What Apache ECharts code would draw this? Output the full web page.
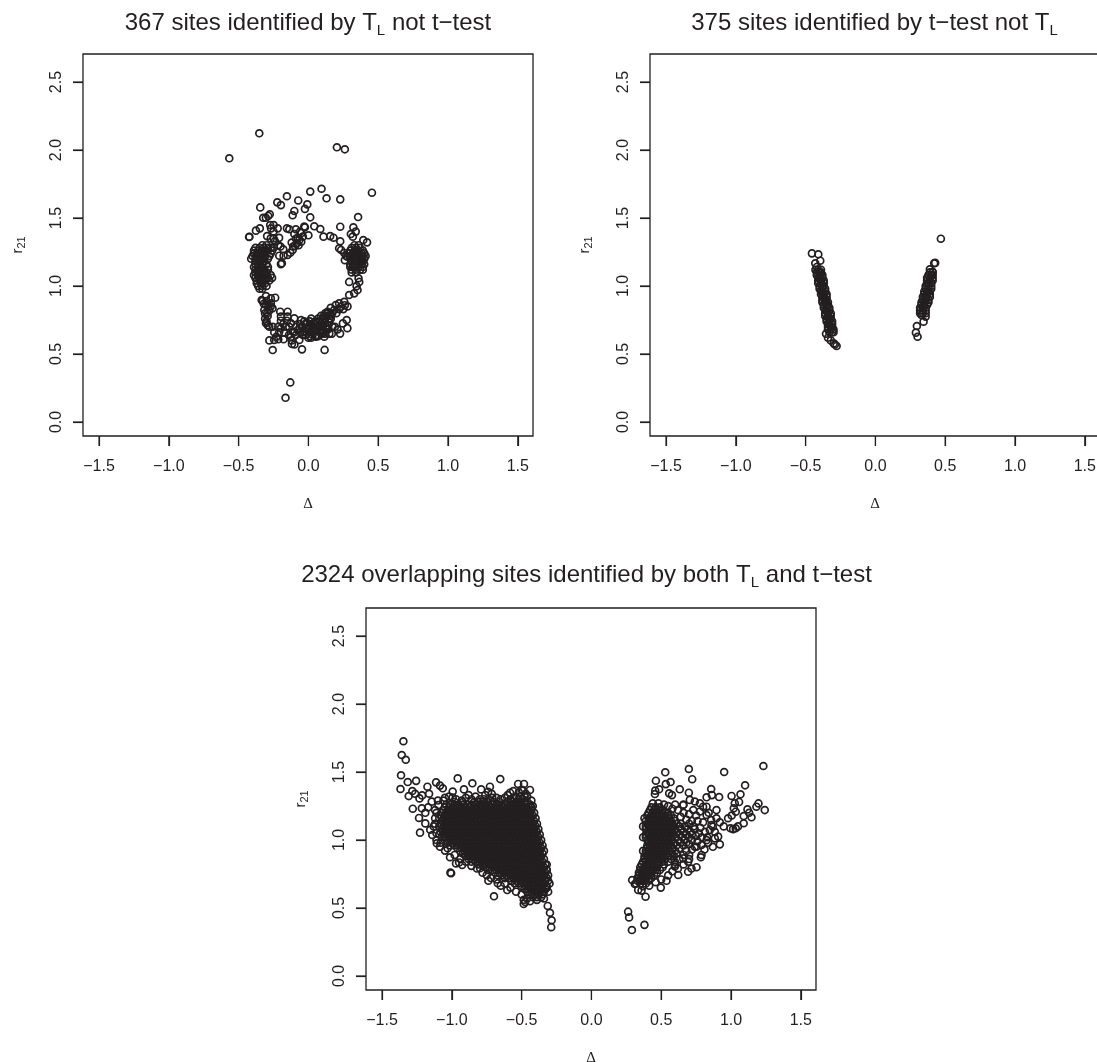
<!DOCTYPE html>
<html><head><meta charset="utf-8">
<script src="https://cdn.jsdelivr.net/npm/echarts@6/dist/echarts.min.js"></script>
<style>html,body{margin:0;padding:0;background:#fff}#c{width:1097px;height:1062px}</style>
</head><body><div id="c"></div>
<script>
const tickValuesX = [-1.5,-1,-0.5,0,0.5,1,1.5];
const tickValuesY = [0,0.5,1,1.5,2,2.5];
const titleParts = [
  [['367 sites identified by T',0],['L',1],[' not t\u2212test',0]],
  [['375 sites identified by t\u2212test not T',0],['L',1]],
  [['2324 overlapping sites identified by both T',0],['L',1],[' and t\u2212test',0]]
];

// Panel 1: T_L only
const tlScattered = [[-.567,1.939],[-.352,2.123],[.204,2.02],[.261,2.005],[.455,1.686],[.094,1.715],[.013,1.694],[.13,1.645],[.228,1.637],[-.154,1.66],[-.223,1.615],[-.197,1.595],[-.073,1.629],[-.008,1.6],[-.025,1.567],[-.345,1.578],[-.101,1.552],[-.113,1.52],[.013,1.505],[.356,1.507],[-.277,1.527],[-.288,1.515],[-.305,1.502],[-.324,1.502],[-.348,1.424],[-.376,1.407],[-.423,1.362],[-.425,1.36],[-.296,1.367],[-.268,1.424],[-.249,1.448],[-.22,1.424],[-.274,1.448],[-.154,1.424],[-.137,1.417],[-.09,1.417],[-.03,1.437],[-.025,1.432],[.042,1.439],[.085,1.419],[.228,1.436],[.322,1.432],[.339,1.4],[.304,1.382],[.318,1.363],[.393,1.338],[.42,1.321],[.108,1.363],[.156,1.367],[.18,1.355],[.228,1.329],[0,1.373],[-.249,1.349],[-.21,1.354],[-.101,1.382],[-.077,1.354],[-.065,1.338],[-.082,1.314],[-.096,1.295],[-.113,1.265],[-.13,1.245],[-.149,1.228],[-.178,1.223],[-.209,1.223],[-.197,1.161],[-.19,1.167],[-.04,1.363],[-.051,1.326],[-.09,1.348],[-.216,1.3],[-.247,1.284],
[-.328,.89],[-.304,.926],[-.269,.909],[-.238,.914],[-.335,.897],[-.288,.848],[-.304,.86],[-.269,.873],[-.311,.799],[-.292,.779],[-.304,.726],[-.28,.7],[-.257,.836],[-.316,.823],[-.32,.87],[-.3,.89],[-.28,.82],[-.31,.76],[-.295,.8],[-.27,.85],[-.3,.74],[-.29,.71],
[-.28,.6],[-.245,.603],[-.216,.608],[-.178,.608],[-.256,.529],[-.202,.811],[-.149,.811],[-.197,.775],[-.149,.775],[-.197,.745],[-.154,.745],[-.216,.7],[-.173,.657],[-.137,.7],[-.113,.663],[-.125,.627],[-.118,.574],[-.065,.603],[-.077,.677],[-.053,.75],[-.245,.66],[-.256,.7],[-.197,.69],[-.23,.627],[-.16,.7],[-.125,.725],[-.101,.762],[-.046,.534],[.116,.53],[-.13,.291],[-.164,.178],[-.1,.66],[-.09,.7],[-.12,.6],[-.1,.57],[-.09,.64],[-.14,.64],[-.21,.66],[-.18,.72],
[.161,.79],[.168,.65],[.227,.65],[.279,.69],[.274,.75],[.247,.725],[.209,.68],[.173,.7],[.114,.627],[.054,.627],[.16,.84],[.196,.86],[.22,.872],[.257,.884],[.28,.85],[.292,.934],[.328,.946],[.352,.97],[.345,.999],[.364,1.03],[.359,1.057],[.292,1.03],[.137,.81],[.184,.823],[.232,.848],[.261,.859],[.234,1.265],[.257,1.243],[.261,1.19],[.22,1.277],[.28,1.215],[.316,1.142],[.2,.8],[.22,.83],[.25,.83],[.15,.65],[.19,.7],
[-.25,1.4],[-.24,1.33],[-.2,1.29],[-.18,1.27],[-.27,1.35],[-.06,1.4],[-.05,1.39],[-.12,1.32],[-.11,1.29],[-.07,1.3]];
const tlLeftCluster = [[1.3,[-.33,-.3]],[1.28,[-.38,-.35,-.32,-.29,-.27]],[1.26,[-.39,-.36,-.33,-.3,-.26]],[1.24,[-.39,-.36,-.33,-.31,-.27]],[1.22,[-.4,-.37,-.34,-.31,-.28]],[1.2,[-.41,-.38,-.35,-.32,-.29]],[1.18,[-.38,-.35,-.32]],[1.16,[-.38,-.36,-.33,-.3]],[1.14,[-.39,-.36,-.33,-.29]],[1.12,[-.38,-.35,-.32,-.29]],[1.1,[-.38,-.36,-.33,-.3]],[1.08,[-.39,-.36,-.33,-.3,-.27]],[1.06,[-.38,-.35,-.32,-.29,-.26]],[1.04,[-.37,-.34,-.31,-.28]],[1.02,[-.37,-.34,-.31]],[1,[-.36,-.33,-.3]],[.98,[-.35,-.33]]];
const tlRightCluster = [[1.3,[.33,.36]],[1.28,[.31,.34,.37]],[1.26,[.3,.33,.36,.39]],[1.24,[.29,.32,.35,.38,.4]],[1.22,[.27,.3,.33,.36,.39,.41]],[1.2,[.3,.33,.36,.38,.4]],[1.18,[.31,.34,.37,.39]],[1.16,[.3,.33,.36,.38,.4]],[1.14,[.3,.33,.36,.39]],[1.12,[.31,.34,.37,.39]],[1.1,[.31,.34]]];
const tlBottomBand = [[.66,[-.06,-.04,.01]],[.69,[-.06,0,.04]],[.72,[-.06,-.02,.02]],[.64,[-.04,-.02,.03,.06]],[.74,[-.03,.01,.05,.08]],[.62,[0,.02]],[.67,[-.03,.02,.05,.08,.11]],[.7,[-.04,.01,.03,.07,.1,.13]],[.73,[-.01,.04,.06,.09,.12,.15]],[.76,[.02,.07,.1,.12,.15,.16]],[.63,[.01,.05,.07]],[.65,[.09,.1,.12]],[.68,[-.01,.04,.1,.13,.14]],[.71,[.03,.1,.14]],[.78,[.09,.11,.13,.16]],[.8,[.12,.14,.17]]];

// Panel 2: t-test only
const ttOutliers = [[-.455,1.24],[-.409,1.233],[-.431,1.167],[-.395,1.186],[-.42,1.14],[-.354,.649],[-.34,.62],[-.32,.6],[-.299,.578],[-.278,.559],[-.29,.57],[.421,1.167],[.428,1.17],[.469,1.348],[.39,1.123],[.41,1.105],[.297,.706],[.29,.657],[.302,.627],[.345,.738],[.36,.775],[.33,.787]];
const ttNegRows = [[1.12,[-.43,-.41,-.39]],[1.1,[-.42,-.4,-.39]],[1.08,[-.42,-.4,-.38]],[1.06,[-.41,-.4,-.38]],[1.04,[-.41,-.39,-.37]],[1.02,[-.41,-.39,-.37]],[1,[-.4,-.38,-.37]],[.98,[-.4,-.38,-.36]],[.96,[-.39,-.38,-.36]],[.94,[-.39,-.37,-.35]],[.92,[-.38,-.37,-.35]],[.9,[-.38,-.36,-.35]],[.88,[-.38,-.36,-.34]],[.86,[-.37,-.35,-.34]],[.84,[-.37,-.35,-.33]],[.82,[-.36,-.35,-.33]],[.8,[-.36,-.34,-.32]],[.78,[-.36,-.34,-.32]],[.76,[-.35,-.33,-.32]],[.74,[-.35,-.33,-.31]],[.72,[-.34,-.33,-.31]],[.7,[-.34,-.32,-.31]],[.68,[-.34,-.32,-.3]],[.66,[-.33,-.31,-.3]]];
const ttPosRows = [[1.1,[.39,.41]],[1.08,[.38,.4,.41]],[1.06,[.37,.39,.41]],[1.04,[.37,.39,.41]],[1.02,[.37,.38,.4]],[1,[.36,.38,.4]],[.98,[.36,.38,.4]],[.96,[.35,.37,.39]],[.94,[.35,.37,.39]],[.92,[.34,.36,.39]],[.9,[.34,.36,.38]],[.88,[.33,.35,.38]],[.86,[.33,.35,.37]],[.84,[.32,.34,.36]],[.82,[.32,.34,.36]],[.8,[.32,.34,.36]]];

// Panel 3: overlap
const bothScattered = [[-1.347,1.726],[-1.359,1.625],[-1.33,1.59],[-1.364,1.476],[-1.368,1.375],[-1.316,1.426],[-1.256,1.435],[-1.309,1.323],[-1.283,1.36],[-1.263,1.34],[-1.232,1.306],[-1.213,1.328],[-1.163,1.34],[-1.175,1.392],[-1.113,1.424],[-1.085,1.4],[-1.065,1.38],[-.958,1.453],[-.994,1.356],[-.994,1.313],[-.913,1.372],[-.853,1.417],[-.79,1.372],[-.727,1.392],[-.74,1.355],[-.714,1.34],[-.653,1.448],[-.525,1.412],[-.483,1.412],[-.44,1.368],[-.49,1.363],[-.583,1.348],[-1.28,1.23],[-1.235,1.162],[-1.19,1.122],[-1.228,1.054],[-1.215,1.233],[-1.19,1.2],[-1.144,1.282],[-1.096,1.257],[-1.12,1.22],[-1.155,1.075],[-1.14,1.037],[-1.108,.976],[-1.085,.951],[-1.049,.922],[-1.013,.873],[-1.01,.76],[-1.005,.755],[-.97,.828],[-.948,.835],[-.926,.816],[-.798,.792],[-.75,.742],[-.738,.701],[-.671,.682],[-.65,.664],[-.603,.632],[-.698,.586],[-.485,.56],[-.485,.53],[-.475,.545],[-.313,.515],[-.297,.465],[-.285,.41],[-.288,.359],[-.31,.62],[-.3,.68],[-.31,.74],[-.32,.82],[-1.12,1.16],[-1.13,1.1],[-1.11,1.05],[-1.17,1.24],[-1.1,1.29],[-1.05,1.31],[-.9,1.31],[-.93,1.29],[-.68,1.31],
[-1.06,1.29],[-1.02,1.32],[-.97,1.3],[-.88,1.33],[-.86,1.3],[-.83,1.32],[-.76,1.33],[-.71,1.31],[-.65,1.3],[-.62,1.31],[-.6,1.33],[-.56,1.36],[-.52,1.35],[-.5,1.37],[-.47,1.34],[-.46,1.32],[-.43,1.29],[-.42,1.25],[-1.11,1.2],[-1.12,1.12],[-1.11,1.0],[-1.08,.98],[-1.03,.94],[-.98,.89],[-.94,.86],[-.9,.84],[-.86,.81],[-.82,.79],[-.78,.76],[-.72,.72],[-.68,.71],[-.62,.68],[-.58,.65],[-.54,.62],[-.5,.6],[-.46,.57],[-.44,.55],[-.39,.56],[-.34,.57],[-.32,.65],[-.31,.7],[-.32,.78],
[1.232,1.544],[.951,1.5],[.698,1.522],[.722,1.447],[.529,1.498],[.462,1.436],[.567,1.426],[.533,1.411],[.485,1.373],[.457,1.363],[.455,1.338],[.557,1.343],[.577,1.33],[.633,1.373],[.698,1.348],[1.101,1.402],[1.068,1.336],[1.004,1.324],[.858,1.375],[.863,1.33],[.915,1.316],[.825,1.314],[1.058,1.28],[1.027,1.27],[1.02,1.233],[1.034,1.208],[1.005,1.18],[1.197,1.269],[1.182,1.245],[1.242,1.22],[1.118,1.225],[1.13,1.2],[1.091,1.176],[1.147,1.167],[1.091,1.123],[1.015,1.08],[1.034,1.086],[.996,1.086],[.948,1.1],[.92,1.13],[.979,1.16],[1.05,1.1],[.92,.968],[.87,.95],[.836,.98],[.908,1.025],[.884,1.012],[.87,1.098],[.858,1.147],[.825,1.184],[.8,1.245],[.777,1.27],[.741,1.283],[.705,1.295],[.657,1.257],[.73,1.22],[.777,1.21],[.825,1.245],[.896,1.22],[.896,1.16],[.848,1.074],[.813,1.06],[.884,1.06],[.825,.999],[.789,.963],[.789,.89],[.784,.873],[.753,.95],[.693,.84],[.693,.767],[.753,.8],[.717,.79],[.622,.743],[.598,.805],[.538,.7],[.497,.65],[.388,.583],[.598,.84],[.657,.865],[.263,.473],[.27,.431],[.29,.338],[.38,.376],[.335,.633],[.359,.628],[.292,.706],[.311,.677],[.414,.664],[.76,1.14],[.73,1.1],[.77,1.05],[.8,1.13],[.75,1.18],[.79,1.02],[.76,.99],[.72,.93],[.7,.89],[.66,.82],[.62,.79],
[.44,1.27],[.48,1.27],[.52,1.26],[.55,1.25],[.58,1.23],[.62,1.22],[.66,1.2],[.7,1.19],[.64,1.17],[.68,1.15],[.72,1.14],[.7,1.12],[.74,1.08],[.78,1.09],[.75,1.03],[.72,1.0],[.7,.97],[.74,.95],[.68,.92],[.66,.89],[.7,.86],[.63,.86],[.6,.82],[.58,.77],[.55,.74],[.5,.71],[.46,.69],[.6,1.26],[.66,1.26],[.84,1.2],[.86,1.11],[.83,1.02],[.81,.93],[.36,.7],[.37,.66],[.37,.92],[.37,1.02],[.37,1.1],[.38,1.16]];
const bothNegRows = [
[1.32,[-.54,-.51,-.48]],
[1.3,[-.8,-.77,-.74,-.58,-.55,-.52,-.49]],
[1.28,[-.98,-.92,-.84,-.81,-.78,-.74,-.7,-.66,-.6,-.57,-.54,-.51,-.48,-.46]],
[1.26,[-1.04,-1.01,-.98,-.95,-.92,-.89,-.86,-.83,-.8,-.77,-.74,-.71,-.68,-.65,-.62,-.59,-.56,-.53,-.5,-.47,-.44]],
[1.24,[-1.05,-1.02,-.99,-.96,-.93,-.9,-.87,-.84,-.81,-.78,-.75,-.72,-.69,-.66,-.63,-.6,-.57,-.54,-.51,-.48,-.45,-.43]],
[1.22,[-1.06,-1.03,-1,-.97,-.94,-.91,-.88,-.85,-.82,-.79,-.76,-.73,-.7,-.67,-.64,-.61,-.58,-.55,-.52,-.49,-.46,-.43]],
[1.2,[-1.07,-1.04,-1.01,-.98,-.95,-.92,-.89,-.86,-.83,-.8,-.77,-.74,-.71,-.68,-.65,-.62,-.59,-.56,-.53,-.5,-.47,-.44,-.41]],
[1.18,[-1.08,-1.05,-1.02,-.99,-.96,-.93,-.9,-.87,-.84,-.81,-.78,-.75,-.72,-.69,-.66,-.63,-.6,-.57,-.54,-.51,-.48,-.45,-.42]],
[1.16,[-1.09,-1.06,-1.03,-1,-.97,-.94,-.91,-.88,-.85,-.82,-.79,-.76,-.73,-.7,-.67,-.64,-.61,-.58,-.55,-.52,-.49,-.46,-.43,-.4]],
[1.14,[-1.07,-1.04,-1.01,-.98,-.95,-.92,-.89,-.86,-.83,-.8,-.77,-.74,-.71,-.68,-.65,-.62,-.59,-.56,-.53,-.5,-.47,-.44,-.41]],
[1.12,[-1.08,-1.05,-1.02,-.99,-.96,-.93,-.9,-.87,-.84,-.81,-.78,-.75,-.72,-.69,-.66,-.63,-.6,-.57,-.54,-.51,-.48,-.45,-.42,-.39]],
[1.1,[-1.09,-1.06,-1.03,-1,-.97,-.94,-.91,-.88,-.85,-.82,-.79,-.76,-.73,-.7,-.67,-.64,-.61,-.58,-.55,-.52,-.49,-.46,-.43,-.4]],
[1.08,[-1.07,-1.04,-1.01,-.98,-.95,-.92,-.89,-.86,-.83,-.8,-.77,-.74,-.71,-.68,-.65,-.62,-.59,-.56,-.53,-.5,-.47,-.44,-.41,-.38]],
[1.06,[-1.08,-1.05,-1.02,-.99,-.96,-.93,-.9,-.87,-.84,-.81,-.78,-.75,-.72,-.69,-.66,-.63,-.6,-.57,-.54,-.51,-.48,-.45,-.42,-.39]],
[1.04,[-1.09,-1.06,-1.03,-1,-.97,-.94,-.91,-.88,-.85,-.82,-.79,-.76,-.73,-.7,-.67,-.64,-.61,-.58,-.55,-.52,-.49,-.46,-.43,-.4,-.37]],
[1.02,[-1.07,-1.04,-1.01,-.98,-.95,-.92,-.89,-.86,-.83,-.8,-.77,-.74,-.71,-.68,-.65,-.62,-.59,-.56,-.53,-.5,-.47,-.44,-.41,-.38]],
[1,[-1.05,-1.02,-.99,-.96,-.93,-.9,-.87,-.84,-.81,-.78,-.75,-.72,-.69,-.66,-.63,-.6,-.57,-.54,-.51,-.48,-.45,-.42,-.39,-.36]],
[.98,[-1.03,-1,-.97,-.94,-.91,-.88,-.85,-.82,-.79,-.76,-.73,-.7,-.67,-.64,-.61,-.58,-.55,-.52,-.49,-.46,-.43,-.4,-.37]],
[.96,[-1.01,-.98,-.95,-.92,-.89,-.86,-.83,-.8,-.77,-.74,-.71,-.68,-.65,-.62,-.59,-.56,-.53,-.5,-.47,-.44,-.41,-.38,-.35]],
[.94,[-.96,-.93,-.9,-.87,-.84,-.81,-.78,-.75,-.72,-.69,-.66,-.63,-.6,-.57,-.54,-.51,-.48,-.45,-.42,-.39,-.36]],
[.92,[-.94,-.91,-.88,-.85,-.82,-.79,-.76,-.73,-.7,-.67,-.64,-.61,-.58,-.55,-.52,-.49,-.46,-.43,-.4,-.37,-.34]],
[.9,[-.92,-.89,-.86,-.83,-.8,-.77,-.74,-.71,-.68,-.65,-.62,-.59,-.56,-.53,-.5,-.47,-.44,-.41,-.38,-.35]],
[.88,[-.9,-.87,-.84,-.81,-.78,-.75,-.72,-.69,-.66,-.63,-.6,-.57,-.54,-.51,-.48,-.45,-.42,-.39,-.36]],
[.86,[-.88,-.85,-.82,-.79,-.76,-.73,-.7,-.67,-.64,-.61,-.58,-.55,-.52,-.49,-.46,-.43,-.4,-.37,-.34]],
[.84,[-.86,-.83,-.8,-.77,-.74,-.71,-.68,-.65,-.62,-.59,-.56,-.53,-.5,-.47,-.44,-.41,-.38,-.35]],
[.82,[-.81,-.78,-.75,-.72,-.69,-.66,-.63,-.6,-.57,-.54,-.51,-.48,-.45,-.42,-.39,-.36,-.33]],
[.8,[-.76,-.73,-.7,-.67,-.64,-.61,-.58,-.55,-.52,-.49,-.46,-.43,-.4,-.37,-.34]],
[.78,[-.74,-.71,-.68,-.65,-.62,-.59,-.56,-.53,-.5,-.47,-.44,-.41,-.38,-.35,-.32]],
[.76,[-.69,-.66,-.63,-.6,-.57,-.54,-.51,-.48,-.45,-.42,-.39,-.36,-.33]],
[.74,[-.67,-.64,-.61,-.58,-.55,-.52,-.49,-.46,-.43,-.4,-.37,-.34]],
[.72,[-.62,-.59,-.56,-.53,-.5,-.47,-.44,-.41,-.38,-.35,-.32]],
[.7,[-.57,-.54,-.51,-.48,-.45,-.42,-.39,-.36,-.33]],
[.68,[-.55,-.52,-.49,-.46,-.43,-.4,-.37,-.34]],
[.66,[-.5,-.47,-.44,-.41,-.38,-.35,-.32]],
[.64,[-.48,-.45,-.42,-.39,-.36,-.33]],
[.62,[-.46,-.43,-.4,-.37,-.34]],
[.6,[-.44,-.41,-.38,-.35]],
[.58,[-.42,-.39,-.36]]];
const bothPosRows = [
[1.24,[.43,.46,.49]],[1.22,[.42,.45,.48,.51]],[1.2,[.41,.44,.47,.5,.53,.55]],[1.18,[.4,.43,.46,.49,.52,.55,.57]],[1.16,[.41,.44,.47,.5,.53,.56,.59]],[1.14,[.39,.42,.45,.48,.51,.54,.57,.6]],[1.12,[.4,.43,.46,.49,.52,.55,.58,.61,.64]],[1.1,[.39,.41,.44,.47,.5,.53,.56,.59,.63,.67]],[1.08,[.39,.42,.45,.48,.51,.54,.57,.6,.64,.69]],[1.06,[.4,.43,.46,.49,.52,.55,.58,.61,.66,.71]],[1.04,[.39,.41,.44,.47,.5,.53,.56,.59,.63,.68,.72]],[1.02,[.39,.42,.45,.48,.51,.54,.57,.6,.65,.7]],[1,[.4,.43,.46,.49,.52,.55,.58,.62,.67]],[.98,[.41,.44,.47,.5,.53,.56,.59,.64,.68]],[.96,[.4,.42,.45,.48,.51,.54,.57,.61,.66]],[.94,[.4,.43,.46,.49,.52,.55,.58,.63]],[.92,[.39,.41,.44,.47,.5,.53,.56,.6]],[.9,[.39,.42,.45,.48,.51,.54,.58,.61]],[.88,[.38,.4,.43,.46,.49,.52,.55,.59]],[.86,[.38,.41,.44,.47,.5,.53,.57]],[.84,[.37,.39,.42,.45,.48,.51,.55]],[.82,[.36,.39,.42,.45,.48,.52]],[.8,[.35,.38,.41,.44,.47,.51]],[.78,[.35,.37,.4,.43,.46,.49]],[.76,[.34,.37,.4,.43,.47]],[.74,[.34,.36,.39,.42,.45]],[.72,[.33,.36,.39,.43]],[.7,[.33,.35,.38,.41]],[.68,[.32,.35,.39]]];

const fromRows = rows => rows.flatMap(([r, ds]) => ds.map(d => [d, r]));
const xLim = [-1.615,1.609], yLim = [-0.103,2.706];
const panels = [
  { grid:{left:83,top:54,width:450,height:382}, cx:308, cy:23, rx:18, ry:245,
    data:[...tlScattered,...fromRows(tlLeftCluster),...fromRows(tlRightCluster),...fromRows(tlBottomBand)] },
  { grid:{left:650,top:54,width:450,height:382}, cx:874.5, cy:23, rx:585, ry:245,
    data:[...ttOutliers,...fromRows(ttNegRows),...fromRows(ttPosRows)] },
  { grid:{left:366,top:608,width:450,height:382}, cx:586.5, cy:575, rx:301, ry:799,
    data:[...bothScattered,...fromRows(bothNegRows),...fromRows(bothPosRows)] }
];
const ink = '#231f20';
const fontSans = '"Liberation Sans"';
const fmt = v => (v < 0 ? '\u2212' : '') + Math.abs(v).toFixed(1);
const measure = document.createElement('canvas').getContext('2d');
const widthOf = (text, size) => { measure.font = size + 'px "Liberation Sans"'; return measure.measureText(text).width; };
const runElements = (parts, size, subSize, subDrop) => {
  const total = parts.reduce((w,[t,s]) => w + widthOf(t, s?subSize:size), 0);
  let x = -total/2;
  return parts.map(([t,s]) => {
    const fs = s ? subSize : size;
    const el = {type:'text',x,y:s?subDrop:0,silent:true,
      style:{text:t,fontFamily:fontSans,fontSize:fs,fill:ink,textAlign:'left',textVerticalAlign:'middle',verticalAlign:'middle'}};
    x += widthOf(t, fs);
    return el;
  });
};
const titleGroups = panels.map((p,i)=>({type:'group',x:p.cx,y:p.cy,silent:true,children:runElements(titleParts[i],24,15,8)}));
const rGroups = panels.map(p=>({type:'group',x:p.rx,y:p.ry,rotation:Math.PI/2,silent:true,children:runElements([['r',0],['21',1]],15,11,4)}));
const chart = echarts.init(document.getElementById('c'));
chart.setOption({
  animation:false, backgroundColor:'#fff',
  graphic:{elements:[...titleGroups,...rGroups]},
  grid: panels.map(p=>({...p.grid,show:true,borderColor:ink,borderWidth:1.3,outerBoundsMode:'none'})),
  xAxis: panels.map((p,i)=>({
    type:'value',gridIndex:i,min:xLim[0],max:xLim[1],
    splitLine:{show:false},axisLine:{show:false,onZero:false},
    axisTick:{show:true,length:10,customValues:tickValuesX,lineStyle:{color:ink,width:1.2}},
    axisLabel:{customValues:tickValuesX,formatter:fmt,margin:23,fontFamily:fontSans,fontSize:16,color:ink,hideOverlap:false,showMinLabel:true,showMaxLabel:true},
    name:'\u0394',nameLocation:'middle',nameGap:61,nameTextStyle:{fontFamily:'"Liberation Serif"',fontSize:15,color:ink}
  })),
  yAxis: panels.map((p,i)=>({
    type:'value',gridIndex:i,min:yLim[0],max:yLim[1],
    splitLine:{show:false},axisLine:{show:false,onZero:false},
    axisTick:{show:true,length:10,customValues:tickValuesY,lineStyle:{color:ink,width:1.2}},
    axisLabel:{customValues:tickValuesY,formatter:fmt,rotate:90,margin:18,fontFamily:fontSans,fontSize:16,color:ink,hideOverlap:false,showMinLabel:true,showMaxLabel:true}
  })),
  series: panels.map((p,i)=>({
    type:'scatter',xAxisIndex:i,yAxisIndex:i,data:p.data,symbol:'circle',symbolSize:6.9,silent:true,progressive:0,
    itemStyle:{color:'rgba(0,0,0,0)',borderColor:ink,borderWidth:1.7,opacity:1}
  }))
});
// Tick marks placed through the axes' own scales, on top of the axis layer.
const tickLines = panels.flatMap((p,i)=>[
  ...tickValuesX.map(v=>{
    const [x,y] = chart.convertToPixel({gridIndex:i},[v,yLim[0]]);
    return {type:'line',z:50,silent:true,shape:{x1:x,y1:y,x2:x,y2:y+10},style:{stroke:ink,lineWidth:1.2}};
  }),
  ...tickValuesY.map(v=>{
    const [x,y] = chart.convertToPixel({gridIndex:i},[xLim[0],v]);
    return {type:'line',z:50,silent:true,shape:{x1:x-10,y1:y,x2:x,y2:y},style:{stroke:ink,lineWidth:1.2}};
  })
]);
chart.setOption({graphic:{elements:[...titleGroups,...rGroups,...tickLines]}});
</script></body></html>
